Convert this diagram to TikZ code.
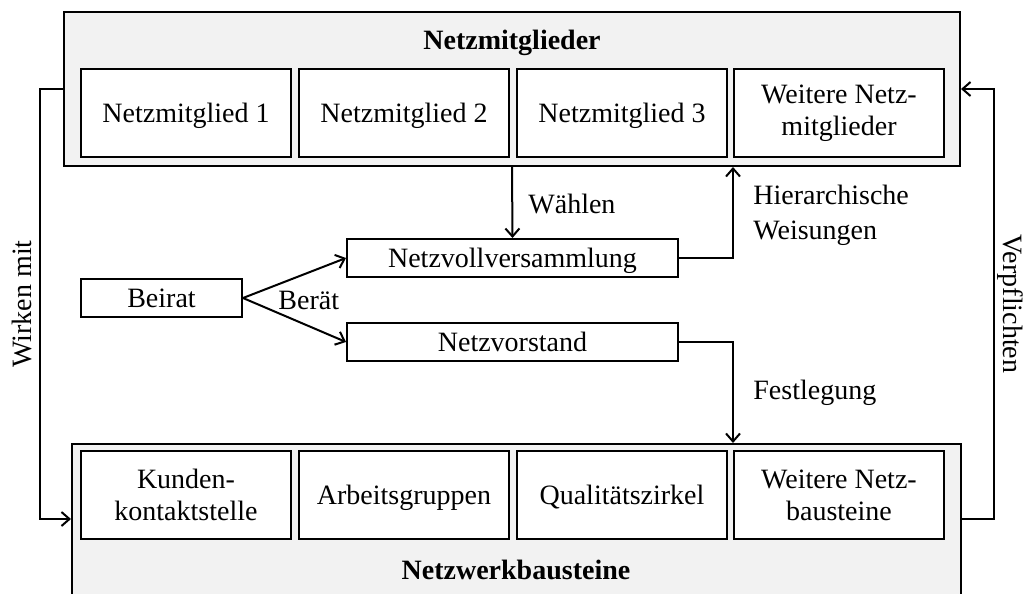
\documentclass[tikz,border=0pt]{standalone}
\usepackage{fontspec}
\setmainfont{Liberation Serif}
\usetikzlibrary{arrows.meta}
\definecolor{panel}{HTML}{F2F2F2}
\begin{document}
\begin{tikzpicture}[x=0.5pt,y=-0.5pt,
  txt/.style={font=\fontsize{14}{16}\selectfont},
  oneline/.style={text height=12pt, text depth=3pt},
  container/.style={draw, line width=1pt, fill=panel, inner sep=0pt},
  member/.style={draw, line width=1pt, fill=white, txt, align=center,
    minimum width=105pt, minimum height=44pt, inner sep=0pt},
  organ/.style={draw, line width=1pt, fill=white, txt, oneline,
    minimum height=19pt, inner sep=0pt},
  lbl/.style={txt, inner sep=0pt},
  title/.style={font=\fontsize{14}{16}\selectfont\bfseries, inner sep=0pt},
  link/.style={line width=1pt},
  arr/.style={link, -{Straight Barb[length=4pt,width=7pt]}}]
\clip (0,0) rectangle (1024,594);

% Netzmitglieder panel
\node[container, minimum width=448pt, minimum height=77pt] (top) at (512,89) {};
\node[title] (toptitle) at (512,43) {Netzmitglieder};
\node[member, oneline] (m1) at (186,113) {Netzmitglied 1};
\node[member, oneline] (m2) at (404,113) {Netzmitglied 2};
\node[member, oneline] (m3) at (622,113) {Netzmitglied 3};
\node[member] (m4) at (839,113) {Weitere Netz-\\mitglieder};

% Netzwerkbausteine panel
\node[container, minimum width=444.5pt, minimum height=85pt] (bot) at (516.5,529) {};
\node[title] (bottitle) at (516,570) {Netzwerkbausteine};
\node[member] (b1) at (186,495) {Kunden-\\kontaktstelle};
\node[member, oneline] (b2) at (404,495) {Arbeitsgruppen};
\node[member, oneline] (b3) at (622,495) {Qualitätszirkel};
\node[member] (b4) at (839,495) {Weitere Netz-\\bausteine};

% Organs
\node[organ, minimum width=165.5pt] (nv) at (512.5,258) {Netzvollversammlung};
\node[organ, minimum width=165.5pt] (nvs) at (512.5,342) {Netzvorstand};
\node[organ, minimum width=80.5pt] (beirat) at (161.5,298) {Beirat};

% Connectors
\draw[arr] (top.south) -- (nv.north);
\node[lbl, anchor=west] (waehlen) at (528,204) {Wählen};

\draw[arr] (nv.east) -| (m4.south west |- top.south);
\node[lbl, anchor=west, align=left, font=\fontsize{14}{17.5}\selectfont] (weis) at (753,215) {Hierarchische\\Weisungen};

\draw[arr] (nvs.east) -| (b4.north west |- bot.north);
\node[lbl, anchor=west] (fest) at (753,393) {Festlegung};

\draw[arr] (beirat.east) -- (nv.west);
\draw[arr] (beirat.east) -- (nvs.west);
\node[lbl, anchor=west] (beraet) at (278,300) {Berät};

\coordinate (wl) at (40,519);
\draw[arr] (top.west) -| (wl) -- (wl -| bot.west);
\node[lbl, rotate=90] (wirken) at (22,304) {Wirken mit};

\coordinate (vr) at (994,519);
\draw[arr] (bot.east |- vr) -- (vr) |- (top.east);
\node[lbl, rotate=-90] (verpf) at (1010,304) {Verpflichten};
\end{tikzpicture}
\end{document}
